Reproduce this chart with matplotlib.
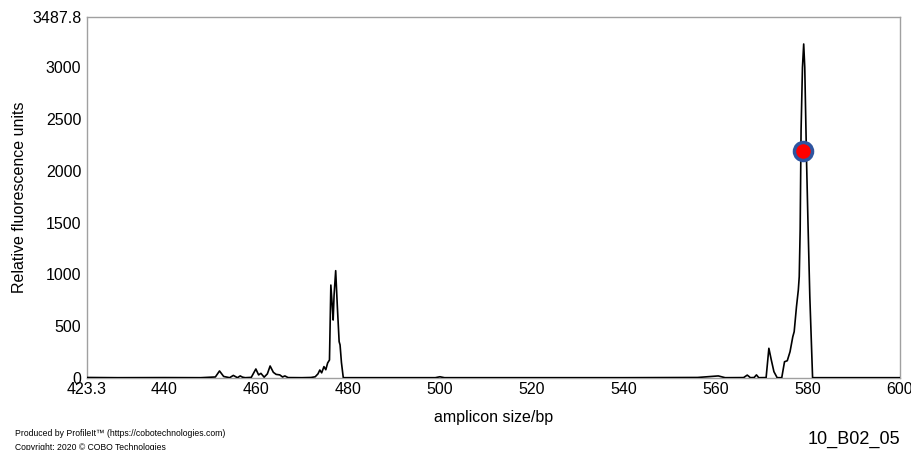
import matplotlib.pyplot as plt

plt.rcParams['font.family'] = ['Liberation Sans', 'DejaVu Sans']

# trace (size in bp, relative fluorescence units)
size_bp = [423.3, 430.0, 440.0, 448.0, 451.2, 452.1, 453.0, 454.3, 455.1, 456.0,
           456.6, 457.1, 457.7, 459.0, 460.0, 460.6, 461.1, 461.8, 462.5, 463.1,
           463.8, 464.4, 465.2, 465.8, 466.3, 467.0, 470.0, 472.0, 472.9, 473.5,
           473.9, 474.3, 474.8, 475.2, 475.6, 476.0, 476.3, 476.6, 476.8, 477.0,
           477.35, 477.7, 478.1, 478.3, 478.6, 479.0, 485.0, 499.0, 500.0, 501.0,
           520.0, 540.0, 556.0, 559.0, 560.5, 562.0, 566.0, 566.8, 567.5, 568.3,
           568.8, 569.3, 570.9, 571.5, 572.0, 572.6, 573.3, 574.3, 574.9, 575.5,
           576.1, 576.7, 577.0, 577.5, 577.9, 578.1, 578.3, 578.5, 578.8, 579.07,
           579.3, 579.7, 580.0, 580.4, 581.0, 585.0, 600.0]
rfu = [5, 3, 4, 3, 10, 68, 15, 3, 25, 3,
       20, 8, 3, 6, 87, 30, 45, 8, 40, 116,
       55, 35, 30, 10, 20, 4, 3, 5, 12, 40,
       77, 50, 110, 80, 145, 174, 898, 700, 560, 800,
       1037, 700, 351, 320, 150, 3, 3, 3, 12, 3,
       3, 3, 5, 15, 20, 3, 4, 28, 3, 5,
       30, 3, 4, 287, 180, 61, 3, 3, 157, 167,
       254, 399, 447, 689, 850, 979, 1430, 2396, 3000, 3227,
       3000, 2077, 1500, 785, 3, 3, 3]

called_size = [579.0]
called_rfu = [2196]

x_ticks = [423.3, 440, 460, 480, 500, 520, 540, 560, 580, 600]
x_tick_labels = ['423.3', '440', '460', '480', '500', '520', '540', '560', '580', '600']
y_ticks = [0, 500, 1000, 1500, 2000, 2500, 3000, 3487.8]
y_tick_labels = ['0', '500', '1000', '1500', '2000', '2500', '3000', '3487.8']

fig = plt.figure(figsize=(9.11, 4.5), dpi=100, facecolor='white')
ax = fig.add_axes([87 / 911, 1 - 378 / 450, 813 / 911, 361 / 450])

ax.plot(size_bp, rfu, color='black', linewidth=1.2, zorder=3)
ax.plot(called_size, called_rfu, 'o', markersize=13, markerfacecolor='#ff0000',
        markeredgecolor='#2f55a0', markeredgewidth=2.5, zorder=4)

ax.set_xlim(423.3, 600)
ax.set_ylim(0, 3487.8)
ax.set_xticks(x_ticks)
ax.set_xticklabels(x_tick_labels)
ax.set_yticks(y_ticks)
ax.set_yticklabels(y_tick_labels)
ax.tick_params(length=0, labelsize=11.5)
ax.tick_params(axis='x', pad=3)
ax.tick_params(axis='y', pad=4)

for side in ['left', 'right', 'top', 'bottom']:
    ax.spines[side].set_color('#a0a0a0')
    ax.spines[side].set_linewidth(1.0)

ax.set_xlabel('amplicon size/bp', fontsize=11.5, labelpad=9)
ax.set_ylabel('Relative fluorescence units', fontsize=11.5, labelpad=4)

fig.text(15 / 911, 1 - 434 / 450, 'Produced by ProfileIt\u2122 (https://cobotechnologies.com)',
         fontsize=6.2, va='center')
fig.text(15 / 911, 1 - 447 / 450, 'Copyright: 2020 \u00a9 COBO Technologies',
         fontsize=6.2, va='center')
fig.text(900 / 911, 1 - 439 / 450, '10_B02_05', fontsize=13, ha='right', va='center')

fig.savefig('out.png', dpi=100)
